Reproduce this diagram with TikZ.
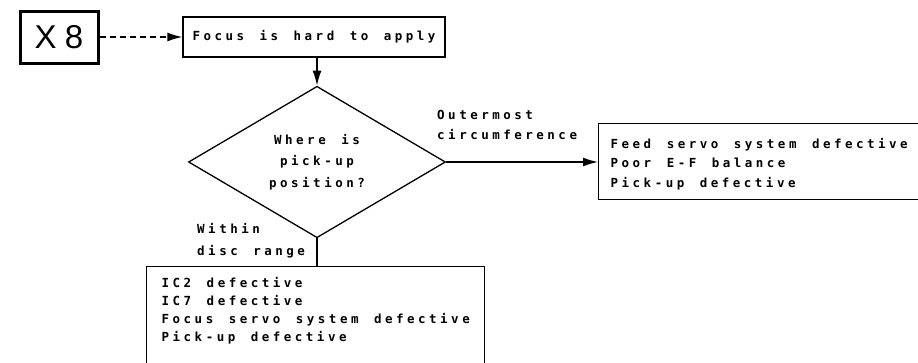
\documentclass[tikz,border=0pt]{standalone}
\usepackage{fontspec}
\usetikzlibrary{shapes.geometric,arrows.meta}
\newfontfamily\plotfont[LetterSpace=28]{DejaVu Sans Mono}
\newfontfamily\tagfont[LetterSpace=25]{Liberation Sans}
\newcommand\plottext[1]{\plotfont\bfseries\fontsize{12.5}{#1}\selectfont\spaceskip=15.5pt\relax}

\tikzset{
  box/.style={draw, line width=1.3pt, inner sep=0pt},
  flow/.style={line width=1.4pt, -{Latex[length=15pt,width=9pt]}},
}

\begin{document}
\begin{tikzpicture}[x=1pt, y=-1pt,
    every node/.style={font=\plottext{20}}]
    \useasboundingbox (0,0) rectangle (918,362);
    \clip (0,0) rectangle (918,362);

    % Start and symptom
    \node[box, line width=3pt, minimum width=78pt, minimum height=52pt,
          font=\tagfont\fontsize{33}{33}\selectfont] (x8) at (59,37) {X8};
    \node[box, minimum width=262pt, minimum height=40pt] (focus) at (314,37)
        {Focus is hard to apply};

    % Decision
    \node[box, diamond, minimum width=257pt, minimum height=106pt, align=center,
          font=\plottext{21.5}] (where) at (317,162) {Where is\\pick-up\\position?};

    % Results
    \node[box, anchor=north west, inner xsep=12pt, minimum height=76pt,
          align=left, font=\plottext{19.5}] (outer) at (598,123)
        {\rule{0pt}{15pt}Feed servo system defective\\Poor E-F balance\\Pick-up defective};
    \node[box, anchor=north west, inner xsep=15pt, inner ysep=11pt,
          text depth=70pt, align=left, font=\plottext{18}]
        (inner) at (146,266)
        {IC2 defective\\IC7 defective\\Focus servo system defective\\Pick-up defective};

    % Connectors
    \draw[flow, dash pattern=on 6pt off 4pt] (x8) -- (focus);
    \draw[flow] (where.north |- focus.south) -- (where.north);
    \draw[flow] (where.east) -- (outer.west |- where.east);
    \draw[line width=1.4pt] (where.south) -- (where.south |- inner.north);

    % Branch labels
    \node[anchor=west, inner sep=0pt, align=left] (outlbl) at (437,125)
        {Outermost\\circumference};
    \node[anchor=west, inner sep=0pt, align=left, font=\plottext{22}] (inlbl) at (197,241)
        {Within\\disc range};
\end{tikzpicture}
\end{document}
